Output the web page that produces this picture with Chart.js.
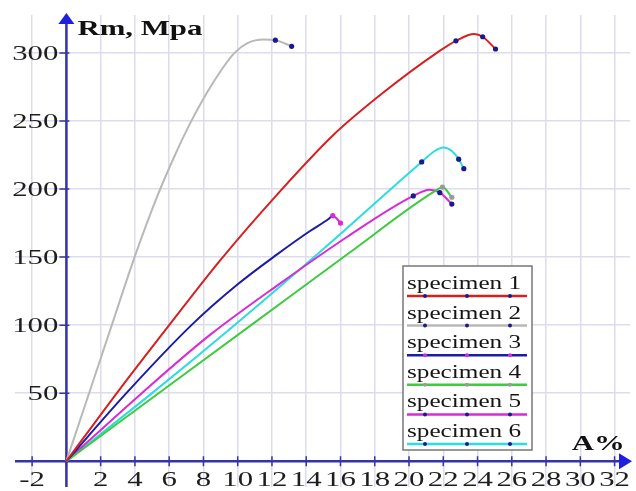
<!DOCTYPE html>
<html>
<head>
<meta charset="utf-8">
<script src="https://cdn.jsdelivr.net/npm/chart.js@4/dist/chart.umd.min.js"></script>
<style>
  html, body { margin: 0; padding: 0; background: #fff; }
  #wrap { width: 636px; height: 491px; position: relative; }
</style>
</head>
<body>
<div id="wrap"><canvas id="grafico"></canvas></div>
<script>
// dados (A% no eixo x, Rm em MPa no eixo y)
const nomes = ['specimen 1', 'specimen 2', 'specimen 3', 'specimen 4', 'specimen 5', 'specimen 6'];

const s1x = [0, 3.0, 6.0, 9.0, 12.3, 15.6, 18.5, 21.6, 22.74, 23.8, 24.3, 25.05];
const s1y = [0, 51, 100, 148, 196, 240, 271, 300, 309, 314, 312, 303];

const s2x = [0, 1.3, 2.65, 3.98, 5.25, 6.3, 7.29, 8.55, 9.8, 10.6, 11.5, 12.2, 13.15];
const s2y = [0, 49, 100, 150, 193, 224, 250, 278, 300, 307.5, 310, 309.5, 305];

const s3x = [0, 3.5, 7.3, 10.0, 12.3, 14.2, 15.3, 15.55, 15.8, 16.0];
const s3y = [0, 50, 100, 130, 152, 169, 178, 180.5, 178, 175];

const s4x = [0, 5.5, 11.0, 16.5, 21.7, 21.95, 22.5];
const s4y = [0, 51, 102, 153, 200, 201.5, 194];

const s5x = [0, 4.4, 8.4, 12.4, 16.4, 20.25, 21.2, 21.8, 22.5];
const s5y = [0, 50, 93, 130, 165, 195, 199.6, 197.4, 189];

const s6x = [0, 5.0, 10.0, 15.0, 20.74, 21.5, 22.0, 22.5, 22.9, 23.2];
const s6y = [0, 50, 102, 156, 220, 228, 230.6, 228, 222, 215];

// índices dos pontos marcados com bolinha
const s1dots = [8, 10, 11];
const s2dots = [11, 12];
const s3dots = [7, 9];
const s4dots = [5, 6];
const s5dots = [5, 7, 8];
const s6dots = [4, 8, 9];

const xGrade = [-2, 0, 2, 4, 6, 8, 10, 12, 14, 16, 18, 20, 22, 24, 26, 28, 30, 32];
const yGrade = [0, 50, 100, 150, 200, 250, 300];
const xRotulos = ['-2', '', '2', '4', '6', '8', '10', '12', '14', '16', '18', '20', '22', '24', '26', '28', '30', '32'];
const yRotulos = ['', '50', '100', '150', '200', '250', '300'];

const cores = ['#d62020', '#b8b8b8', '#1c1ca6', '#3ccc3c', '#d82ad8', '#2adde0'];
const corPonto = ['#1a1a90', '#1a1a90', '#d82ad8', '#9a9a9a', '#1a1a90', '#1a1a90'];

const ESTICA = 1.4; // o texto do original é esticado na horizontal
const SERIF = '"Liberation Serif", "Times New Roman", serif';

function pontos(xs, ys) {
  return xs.map((x, i) => ({ x: x, y: ys[i] }));
}

function raios(n, idx) {
  const r = [];
  for (let i = 0; i < n; i++) r.push(idx.includes(i) ? 2.6 : 0);
  return r;
}

function texto(ctx, t, x, y, align, font, base) {
  ctx.save();
  ctx.font = font;
  ctx.textBaseline = base || 'alphabetic';
  ctx.textAlign = 'left';
  const w = ctx.measureText(t).width * ESTICA;
  let x0 = x;
  if (align === 'right') x0 = x - w;
  if (align === 'center') x0 = x - w / 2;
  ctx.translate(x0, y);
  ctx.scale(ESTICA, 1);
  ctx.fillText(t, 0, 0);
  ctx.restore();
}

const series = [
  [s1x, s1y, s1dots], [s2x, s2y, s2dots], [s3x, s3y, s3dots],
  [s4x, s4y, s4dots], [s5x, s5y, s5dots], [s6x, s6y, s6dots]
];

const datasets = series.map((s, i) => {
  const ds = {
    label: nomes[i],
    data: pontos(s[0], s[1]),
    showLine: true,
    borderColor: cores[i],
    borderWidth: 2,
    pointRadius: raios(s[0].length, s[2]),
    pointBackgroundColor: corPonto[i],
    pointBorderWidth: 0,
    cubicInterpolationMode: 'monotone',
    fill: false
  };
  if (i === 2) {
    // ponta do specimen 3 fica magenta
    const n = s[0].length;
    ds.segment = { borderColor: c => (c.p0DataIndex >= n - 3 ? '#d82ad8' : cores[2]) };
  }
  return ds;
});

const eixos = {
  id: 'eixos',
  beforeDatasetsDraw(chart) {
    const ctx = chart.ctx;
    const sx = chart.scales.x, sy = chart.scales.y;
    const x0 = sx.getPixelForValue(0), y0 = sy.getPixelForValue(0);
    const area = chart.chartArea;

    ctx.save();
    ctx.strokeStyle = '#3434a8';
    ctx.lineWidth = 2.5;
    ctx.beginPath();
    ctx.moveTo(area.left, y0);
    ctx.lineTo(area.right - 10, y0);
    ctx.moveTo(x0, area.bottom);
    ctx.lineTo(x0, area.top + 8);
    ctx.stroke();

    // marcas dos ticks
    ctx.lineWidth = 1.5;
    ctx.beginPath();
    xGrade.forEach(v => {
      const p = sx.getPixelForValue(v);
      ctx.moveTo(p, y0 - 5);
      ctx.lineTo(p, y0 + 5);
    });
    yGrade.forEach(v => {
      const p = sy.getPixelForValue(v);
      ctx.moveTo(x0 - 7, p);
      ctx.lineTo(x0 + 3, p);
    });
    ctx.stroke();

    // setas
    ctx.fillStyle = '#1f1fe0';
    ctx.beginPath();
    ctx.moveTo(x0, area.top - 2);
    ctx.lineTo(x0 - 8, area.top + 9);
    ctx.lineTo(x0 + 8, area.top + 9);
    ctx.closePath();
    ctx.fill();
    ctx.beginPath();
    ctx.moveTo(area.right + 2, y0);
    ctx.lineTo(area.right - 11, y0 - 8);
    ctx.lineTo(area.right - 11, y0 + 8);
    ctx.closePath();
    ctx.fill();

    // rótulos
    ctx.fillStyle = '#1e1e1e';
    xGrade.forEach((v, i) => {
      if (xRotulos[i]) texto(ctx, xRotulos[i], sx.getPixelForValue(v), y0 + 25, 'center', '22px ' + SERIF);
    });
    yGrade.forEach((v, i) => {
      if (yRotulos[i]) texto(ctx, yRotulos[i], x0 - 8, sy.getPixelForValue(v) + 1, 'right', '22px ' + SERIF, 'middle');
    });
    ctx.fillStyle = '#111';
    texto(ctx, 'Rm, Mpa', x0 + 11, area.top + 20, 'left', 'bold 22px ' + SERIF);
    texto(ctx, 'A%', sx.getPixelForValue(29.5), y0 - 11, 'left', 'bold 22px ' + SERIF);
    ctx.restore();
  },
  afterDraw(chart) {
    // legenda desenhada como no original
    const ctx = chart.ctx;
    const bx = 403, by = 266, bw = 129, bh = 184;
    ctx.save();
    ctx.fillStyle = '#fff';
    ctx.fillRect(bx, by, bw, bh);
    ctx.strokeStyle = '#777';
    ctx.lineWidth = 1.5;
    ctx.strokeRect(bx, by, bw, bh);
    nomes.forEach((nome, i) => {
      const base = by + 23 + i * 29.6;
      ctx.fillStyle = '#151515';
      texto(ctx, nome, bx + 4, base, 'left', '18px ' + SERIF);
      const ly = base + 7;
      ctx.strokeStyle = cores[i];
      ctx.lineWidth = 2.5;
      ctx.beginPath();
      ctx.moveTo(bx + 4, ly);
      ctx.lineTo(bx + bw - 5, ly);
      ctx.stroke();
      ctx.fillStyle = corPonto[i];
      [425, 467, 510].forEach(px => {
        ctx.beginPath();
        ctx.arc(px, ly, 2, 0, Math.PI * 2);
        ctx.fill();
      });
    });
    ctx.restore();
  }
};

new Chart(document.getElementById('grafico'), {
  type: 'scatter',
  data: { datasets: datasets },
  options: {
    responsive: true,
    maintainAspectRatio: false,
    animation: false,
    layout: { padding: { left: 15, right: 6, top: 15, bottom: 0 } },
    plugins: { legend: { display: false }, tooltip: { enabled: false } },
    scales: {
      x: {
        type: 'linear',
        min: -3,
        max: 32.9,
        afterBuildTicks: s => { s.ticks = xGrade.map(v => ({ value: v })); },
        ticks: { display: false },
        grid: { color: '#dcdcec', lineWidth: 1.5, drawTicks: false },
        border: { display: false }
      },
      y: {
        type: 'linear',
        min: -19,
        max: 328,
        afterBuildTicks: s => { s.ticks = yGrade.map(v => ({ value: v })); },
        ticks: { display: false },
        grid: { color: '#dcdcec', lineWidth: 1.5, drawTicks: false },
        border: { display: false }
      }
    }
  },
  plugins: [eixos]
});
</script>
</body>
</html>
